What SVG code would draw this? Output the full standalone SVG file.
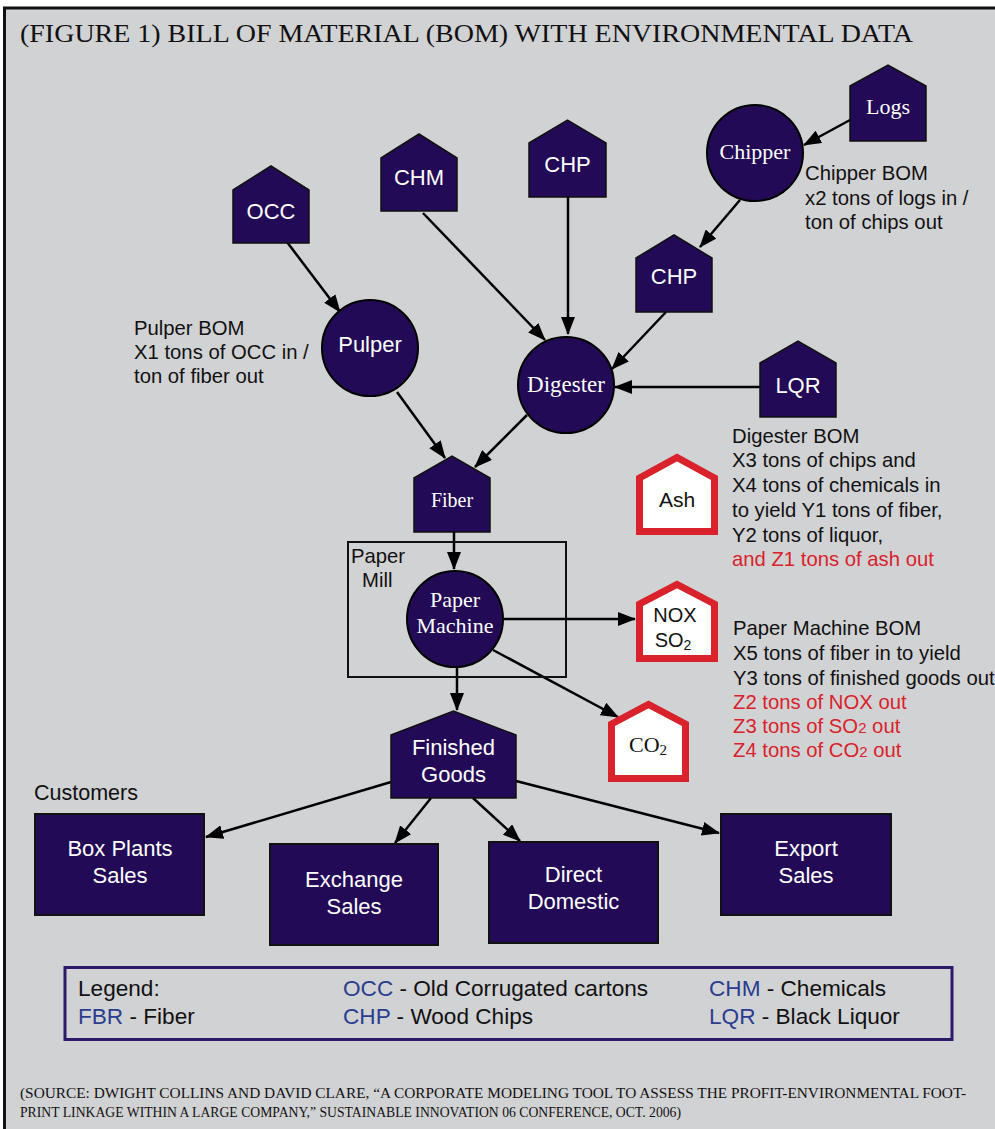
<svg xmlns="http://www.w3.org/2000/svg" width="995" height="1129" viewBox="0 0 995 1129">
<defs>
<marker id="ah" markerUnits="userSpaceOnUse" markerWidth="18" markerHeight="14" refX="17" refY="7" orient="auto">
<path d="M0,0 L18,7 L0,14 Z" fill="#000"/>
</marker>
<style>
.bg{fill:#d1d2d4;stroke:#111;stroke-width:3}
.house{fill:#230a56;stroke:#111;stroke-width:1.5}
.circ{fill:#230a56;stroke:#000;stroke-width:2}
.box{fill:#230a56;stroke:#111;stroke-width:2}
.red{fill:#fff;stroke:#d9222b;stroke-width:7;stroke-linejoin:miter}
.sw{font-family:"Liberation Sans",Arial,sans-serif;fill:#fff;text-anchor:middle}
.rw{font-family:"Liberation Serif","Times New Roman",serif;fill:#fff;text-anchor:middle}
.t{font-family:"Liberation Sans",Arial,sans-serif;fill:#111;font-size:20.3px}
.r{fill:#d9222b}
.lg{font-family:"Liberation Sans",Arial,sans-serif;fill:#111;font-size:22.6px}
.b{fill:#2a3d8f}
.conn line{stroke:#000;stroke-width:2.5;marker-end:url(#ah)}
</style>
</defs>
<rect x="0" y="0" width="995" height="1129" fill="#fff"/>
<rect class="bg" x="4.5" y="8" width="1010" height="1140"/>
<text x="20" y="42" font-family="'Liberation Serif','Times New Roman',serif" font-size="25" fill="#111" textLength="893" lengthAdjust="spacingAndGlyphs">(FIGURE 1) BILL OF MATERIAL (BOM) WITH ENVIRONMENTAL DATA</text>

<g class="conn">
<line x1="850" y1="120" x2="804" y2="145"/>
<line x1="740" y1="200" x2="700" y2="247"/>
<line x1="287" y1="242" x2="340" y2="312"/>
<line x1="423" y1="213" x2="545" y2="340"/>
<line x1="568" y1="197" x2="568" y2="334"/>
<line x1="666" y1="312" x2="612" y2="369"/>
<line x1="760" y1="387" x2="615" y2="387"/>
<line x1="397" y1="392" x2="445" y2="458"/>
<line x1="527" y1="415" x2="475" y2="467"/>
<line x1="454" y1="532" x2="454" y2="569"/>
<line x1="504" y1="619" x2="635" y2="619"/>
<line x1="493" y1="650" x2="618" y2="717"/>
<line x1="457" y1="667" x2="457" y2="710"/>
<line x1="391" y1="782" x2="206" y2="837"/>
<line x1="431" y1="798" x2="395" y2="843"/>
<line x1="473" y1="798" x2="520" y2="841"/>
<line x1="516" y1="781" x2="719" y2="833"/>
</g>

<g id="logs"><polygon class="house" points="850,86 888,65 926,86 926,141 850,141"/><text class="rw" x="888" y="114" font-size="22">Logs</text></g>
<g id="chipper"><circle class="circ" cx="755" cy="153" r="48"/><text class="rw" x="755" y="159" font-size="22">Chipper</text></g>
<g id="chp2"><polygon class="house" points="636,258 674,235 712,258 712,312 636,312"/><text class="sw" x="674" y="284" font-size="22">CHP</text></g>
<g id="occ"><polygon class="house" points="233,190 271,166 309,190 309,243 233,243"/><text class="sw" x="271" y="219" font-size="22">OCC</text></g>
<g id="chm"><polygon class="house" points="381,158 419,134 457,158 457,211 381,211"/><text class="sw" x="419" y="185" font-size="22">CHM</text></g>
<g id="chp1"><polygon class="house" points="529,143 567.5,120 606,143 606,197 529,197"/><text class="sw" x="567.5" y="172" font-size="22">CHP</text></g>
<g id="lqr"><polygon class="house" points="760,363 798,341 836,363 836,417 760,417"/><text class="sw" x="798" y="393" font-size="22">LQR</text></g>
<g id="pulper"><circle class="circ" cx="370" cy="348" r="48"/><text class="sw" x="370" y="352" font-size="22">Pulper</text></g>
<g id="digester"><circle class="circ" cx="566" cy="385" r="48"/><text class="rw" x="566" y="392" font-size="23">Digester</text></g>
<g id="fiber"><polygon class="house" points="414,478 452,456 490,478 490,532 414,532"/><text class="rw" x="452" y="507" font-size="20">Fiber</text></g>
<g id="papermill"><rect x="348" y="542" width="218" height="135" fill="none" stroke="#111" stroke-width="2"/><text class="t" x="351" y="563" font-size="19">Paper</text><text class="t" x="362" y="587" font-size="19">Mill</text></g>
<g id="papermachine"><circle class="circ" cx="455" cy="619" r="48"/><text class="rw" x="455" y="607" font-size="22">Paper</text><text class="rw" x="455" y="633" font-size="22">Machine</text></g>
<g id="ash"><polygon class="red" points="639.5,478 677,457.5 714.5,478 714.5,531.5 639.5,531.5"/><text x="677" y="507" font-family="'Liberation Sans',Arial,sans-serif" font-size="21" fill="#111" text-anchor="middle">Ash</text></g>
<g id="noxso2"><polygon class="red" points="639.5,604 677,584.5 714.5,604 714.5,658.5 639.5,658.5"/><text x="675" y="622" font-family="'Liberation Sans',Arial,sans-serif" font-size="20" fill="#111" text-anchor="middle">NOX</text><text x="673" y="647" font-family="'Liberation Sans',Arial,sans-serif" font-size="20" fill="#111" text-anchor="middle">SO<tspan font-size="14" dy="3">2</tspan></text></g>
<g id="co2"><polygon class="red" points="611.5,724 648.5,704.5 685.5,724 685.5,778.5 611.5,778.5"/><text x="648" y="752" font-family="'Liberation Serif','Times New Roman',serif" font-size="22" fill="#111" text-anchor="middle">CO<tspan font-size="15" dy="3">2</tspan></text></g>
<g id="finishedgoods"><polygon class="house" points="391,735 453.5,711 516,735 516,798 391,798"/><text class="sw" x="453.5" y="755" font-size="22">Finished</text><text class="sw" x="453.5" y="782" font-size="22">Goods</text></g>

<g id="pulperbom"><text class="t" x="134" y="335">Pulper BOM</text><text class="t" x="134" y="359">X1 tons of OCC in /</text><text class="t" x="134" y="383">ton of fiber out</text></g>
<g id="chipperbom"><text class="t" x="805" y="180">Chipper BOM</text><text class="t" x="805" y="205">x2 tons of logs in /</text><text class="t" x="805" y="229">ton of chips out</text></g>
<g id="digesterbom"><text class="t" x="732" y="443">Digester BOM</text><text class="t" x="732" y="467">X3 tons of chips and</text><text class="t" x="732" y="492">X4 tons of chemicals in</text><text class="t" x="732" y="517">to yield Y1 tons of fiber,</text><text class="t" x="732" y="542">Y2 tons of liquor,</text><text class="t r" x="732" y="566">and Z1 tons of ash out</text></g>
<g id="pmbom"><text class="t" x="733" y="635">Paper Machine BOM</text><text class="t" x="733" y="660">X5 tons of fiber in to yield</text><text class="t" x="733" y="685">Y3 tons of finished goods out</text><text class="t r" x="733" y="709">Z2 tons of NOX out</text><text class="t r" x="733" y="733">Z3 tons of SO<tspan font-size="15">2</tspan> out</text><text class="t r" x="733" y="757">Z4 tons of CO<tspan font-size="15">2</tspan> out</text></g>

<text x="34" y="800" font-family="'Liberation Sans',Arial,sans-serif" font-size="21.5" fill="#111">Customers</text>
<g id="boxplants"><rect class="box" x="35" y="814" width="169" height="101"/><text class="sw" x="120" y="856" font-size="22">Box Plants</text><text class="sw" x="120" y="883" font-size="22">Sales</text></g>
<g id="exchange"><rect class="box" x="270" y="844" width="168" height="101"/><text class="sw" x="354" y="887" font-size="22">Exchange</text><text class="sw" x="354" y="914" font-size="22">Sales</text></g>
<g id="direct"><rect class="box" x="489" y="842" width="169" height="101"/><text class="sw" x="573.5" y="882" font-size="22">Direct</text><text class="sw" x="573.5" y="909" font-size="22">Domestic</text></g>
<g id="export"><rect class="box" x="721" y="814" width="170" height="101"/><text class="sw" x="806" y="856" font-size="22">Export</text><text class="sw" x="806" y="883" font-size="22">Sales</text></g>

<g id="legend">
<rect x="65" y="967.5" width="887" height="72" fill="none" stroke="#2e1a68" stroke-width="3"/>
<text class="lg" x="78" y="996">Legend:</text>
<text class="lg" x="78" y="1024"><tspan class="b">FBR</tspan> - Fiber</text>
<text class="lg" x="343" y="996"><tspan class="b">OCC</tspan> - Old Corrugated cartons</text>
<text class="lg" x="343" y="1024"><tspan class="b">CHP</tspan> - Wood Chips</text>
<text class="lg" x="709" y="996"><tspan class="b">CHM</tspan> - Chemicals</text>
<text class="lg" x="709" y="1024"><tspan class="b">LQR</tspan> - Black Liquor</text>
</g>

<text x="20" y="1098" font-family="'Liberation Serif','Times New Roman',serif" font-size="15" fill="#111" textLength="946" lengthAdjust="spacingAndGlyphs">(SOURCE: DWIGHT COLLINS AND DAVID CLARE, “A CORPORATE MODELING TOOL TO ASSESS THE PROFIT-ENVIRONMENTAL FOOT-</text>
<text x="20" y="1117" font-family="'Liberation Serif','Times New Roman',serif" font-size="15" fill="#111" textLength="661" lengthAdjust="spacingAndGlyphs">PRINT LINKAGE WITHIN A LARGE COMPANY,” SUSTAINABLE INNOVATION 06 CONFERENCE, OCT. 2006)</text>
</svg>
